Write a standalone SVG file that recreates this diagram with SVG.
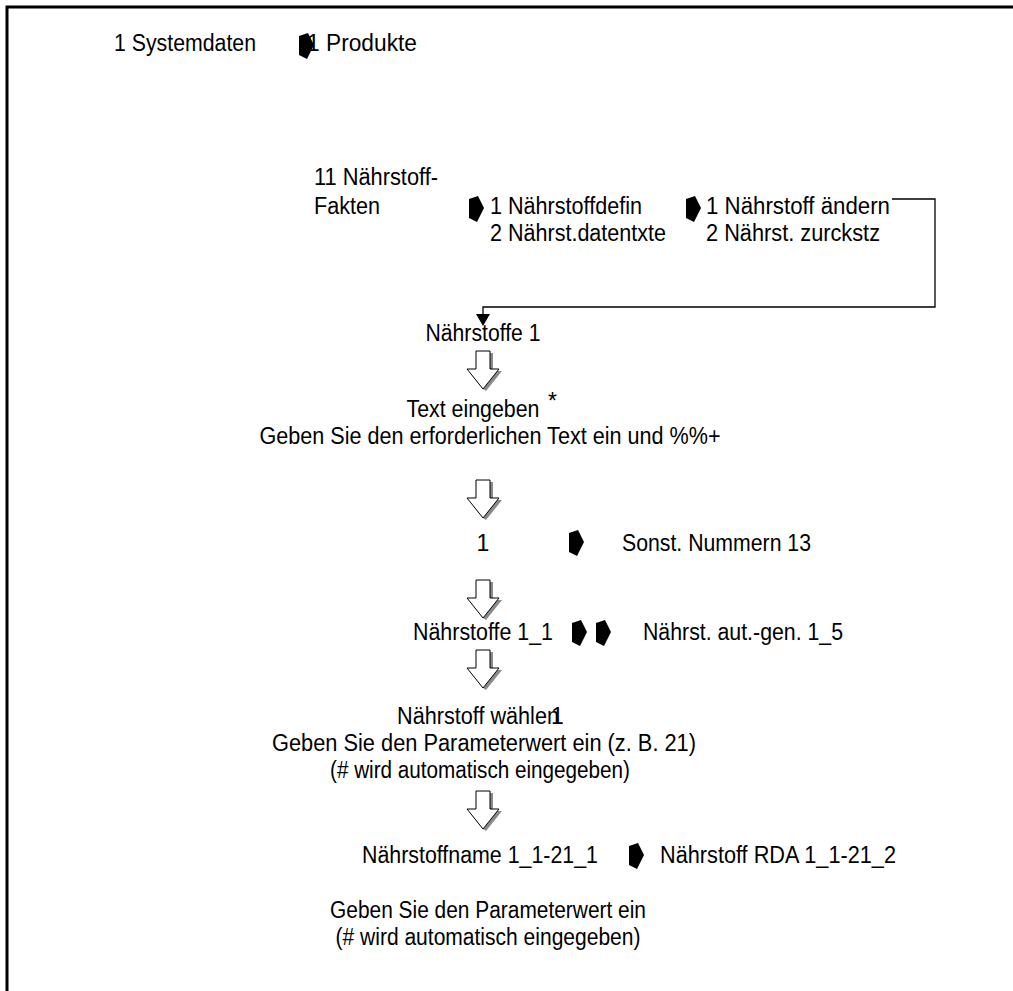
<svg xmlns="http://www.w3.org/2000/svg" width="1013" height="991" viewBox="0 0 1013 991">
<style>
text{font-family:"Liberation Sans",Arial,sans-serif;font-size:23px;fill:#000}
.frame{fill:none;stroke:#000;stroke-width:3}
.conn{fill:none;stroke:#000;stroke-width:1.3}
.hollow{fill:#fff;stroke:#000;stroke-width:1}
.shadow{fill:#8a8a8a}
</style>
<defs>
<polygon id="blk" points="0,3 9,0 15,12 8,26 0,22" fill="#000"/>
<g id="down">
<polygon class="shadow" points="-4,2 10,2 10,20 19,20 3,40 0,38 13,21 -4,21"/>
<polygon class="hollow" points="-7,0 7,0 7,18 16,18 0,38 -16,18 -7,18"/>
</g>
</defs>
<g id="frame">
<polyline class="frame" points="7,991 7,7 1013,7"/>
</g>
<g id="n1"><text x="114" y="51" textLength="142" lengthAdjust="spacingAndGlyphs">1 Systemdaten</text></g>
<g id="n2"><text x="307" y="51" textLength="110" lengthAdjust="spacingAndGlyphs">1 Produkte</text></g>
<g id="n3"><text x="314" y="185" textLength="124" lengthAdjust="spacingAndGlyphs">11 Nährstoff-</text><text x="314" y="214" textLength="66" lengthAdjust="spacingAndGlyphs">Fakten</text></g>
<g id="n4"><text x="490" y="214" textLength="152" lengthAdjust="spacingAndGlyphs">1 Nährstoffdefin</text><text x="490" y="241" textLength="176" lengthAdjust="spacingAndGlyphs">2 Nährst.datentxte</text></g>
<g id="n5"><text x="706" y="214" textLength="184" lengthAdjust="spacingAndGlyphs">1 Nährstoff ändern</text><text x="706" y="241" textLength="174" lengthAdjust="spacingAndGlyphs">2 Nährst. zurckstz</text></g>
<g id="n6"><text x="483" y="341" text-anchor="middle" textLength="115" lengthAdjust="spacingAndGlyphs">Nährstoffe 1</text></g>
<g id="n7"><text x="473" y="417" text-anchor="middle" textLength="133" lengthAdjust="spacingAndGlyphs">Text eingeben</text><text x="548" y="409">*</text>
<text x="490" y="444" text-anchor="middle" textLength="461" lengthAdjust="spacingAndGlyphs">Geben Sie den erforderlichen Text ein und %%+</text></g>
<g id="n8"><text x="483" y="551" text-anchor="middle">1</text></g>
<g id="n9"><text x="622" y="551" textLength="189" lengthAdjust="spacingAndGlyphs">Sonst. Nummern 13</text></g>
<g id="n10"><text x="413" y="640" textLength="140" lengthAdjust="spacingAndGlyphs">Nährstoffe 1_1</text></g>
<g id="n11"><text x="643" y="640" textLength="200" lengthAdjust="spacingAndGlyphs">Nährst. aut.-gen. 1_5</text></g>
<g id="n12"><text x="397" y="724" textLength="162" lengthAdjust="spacingAndGlyphs">Nährstoff wählen</text><text x="551" y="724">1</text>
<text x="484" y="751" text-anchor="middle" textLength="424" lengthAdjust="spacingAndGlyphs">Geben Sie den Parameterwert ein (z. B. 21)</text>
<text x="480" y="778" text-anchor="middle" textLength="300" lengthAdjust="spacingAndGlyphs">(# wird automatisch eingegeben)</text></g>
<g id="n13"><text x="362" y="863" textLength="236" lengthAdjust="spacingAndGlyphs">Nährstoffname 1_1-21_1</text></g>
<g id="n14"><text x="660" y="863" textLength="236" lengthAdjust="spacingAndGlyphs">Nährstoff RDA 1_1-21_2</text></g>
<g id="n15"><text x="488" y="918" text-anchor="middle" textLength="316" lengthAdjust="spacingAndGlyphs">Geben Sie den Parameterwert ein</text>
<text x="488" y="945" text-anchor="middle" textLength="305" lengthAdjust="spacingAndGlyphs">(# wird automatisch eingegeben)</text></g>
<g id="connectors">
<polyline class="conn" points="892,199 935,199 935,307 483,307 483,314"/>
<polygon points="476,314 490,314 483,326" fill="#000"/>
<use href="#blk" x="299" y="33"/>
<use href="#blk" x="469" y="196"/>
<use href="#blk" x="686" y="196"/>
<use href="#down" x="483" y="351"/>
<use href="#down" x="483" y="480"/>
<use href="#blk" x="569" y="530"/>
<use href="#down" x="483" y="580"/>
<use href="#blk" x="572" y="620"/>
<use href="#blk" x="596" y="620"/>
<use href="#down" x="483" y="650"/>
<use href="#down" x="483" y="791"/>
<use href="#blk" x="629" y="843"/>
</g>
</svg>
